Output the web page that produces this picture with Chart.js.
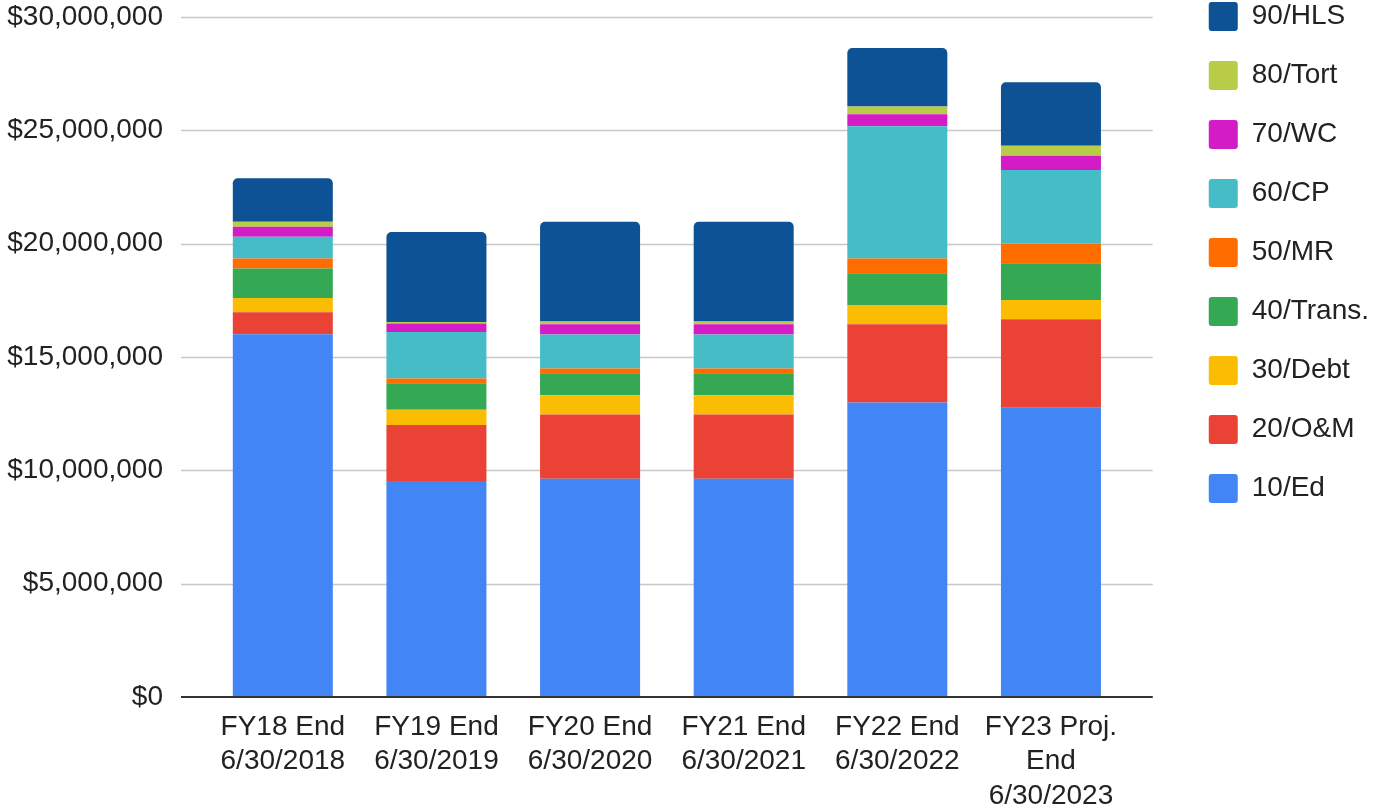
<!DOCTYPE html>
<html>
<head>
<meta charset="utf-8">
<title>Fund balances by fiscal year</title>
<script src="https://cdn.jsdelivr.net/npm/chart.js@4.4.1/dist/chart.umd.min.js"></script>
<style>
  html, body { margin: 0; padding: 0; background: #fff; overflow: hidden; }
  .wrap { position: relative; width: 1376px; height: 809px; }
</style>
</head>
<body>
<div class="wrap"><canvas id="fundChart"></canvas></div>
<script>
/* ---------- Data (dollars) ---------- */
const categories = [
  ['FY18 End', '6/30/2018'],
  ['FY19 End', '6/30/2019'],
  ['FY20 End', '6/30/2020'],
  ['FY21 End', '6/30/2021'],
  ['FY22 End', '6/30/2022'],
  ['FY23 Proj.', 'End', '6/30/2023']
];
const ed    = [16000000,  9530000,  9630000,  9630000, 12990000, 12760000];
const om    = [  970000,  2470000,  2830000,  2830000,  3450000,  3900000];
const debt  = [  630000,   670000,   850000,   850000,   850000,   850000];
const trans = [ 1300000,  1170000,   970000,   970000,  1400000,  1620000];
const mr    = [  440000,   210000,   210000,   210000,   650000,   870000];
const cp    = [  960000,  2050000,  1500000,  1500000,  5830000,  3240000];
const wc    = [  440000,   370000,   450000,   450000,   530000,   630000];
const tort  = [  220000,    70000,   120000,   120000,   340000,   440000];
const hls   = [ 1920000,  3970000,  4400000,  4400000,  2580000,  2800000];
const yTicks = [0, 5000000, 10000000, 15000000, 20000000, 25000000, 30000000];

/* ---------- Styles ---------- */
const ink = '#222222';
Chart.defaults.font.family = '"Liberation Sans", Arial, sans-serif';
Chart.defaults.color = ink;

const series = [
  { label: '10/Ed',     data: ed,    color: '#4285F4' },
  { label: '20/O&M',    data: om,    color: '#EA4335' },
  { label: '30/Debt',   data: debt,  color: '#FBBC04' },
  { label: '40/Trans.', data: trans, color: '#34A853' },
  { label: '50/MR',     data: mr,    color: '#FF6D01' },
  { label: '60/CP',     data: cp,    color: '#46BDC6' },
  { label: '70/WC',     data: wc,    color: '#D31CC6' },
  { label: '80/Tort',   data: tort,  color: '#B9CC47' },
  { label: '90/HLS',    data: hls,   color: '#0C5295' }
];

// horizontal grid lines run a bit past the bar area, like the sheet chart
const gridPlugin = {
  id: 'sheetGrid',
  beforeDatasetsDraw(chart) {
    const { ctx, chartArea, scales: { y } } = chart;
    ctx.save();
    ctx.strokeStyle = '#c8c8c8';
    ctx.lineWidth = 1.6;
    y.ticks.forEach(t => {
      if (t.value === 0) return;
      const py = Math.round(y.getPixelForValue(t.value)) + 0.5;
      ctx.beginPath();
      ctx.moveTo(chartArea.left - 25, py);
      ctx.lineTo(chartArea.right + 25, py);
      ctx.stroke();
    });
    ctx.restore();
  },
  afterDatasetsDraw(chart) {
    const { ctx, chartArea, scales: { y } } = chart;
    const py = y.getPixelForValue(0);
    ctx.save();
    ctx.strokeStyle = '#333333';
    ctx.lineWidth = 2;
    ctx.beginPath();
    ctx.moveTo(chartArea.left - 25, py);
    ctx.lineTo(chartArea.right + 25, py);
    ctx.stroke();
    ctx.restore();
  }
};

new Chart(document.getElementById('fundChart'), {
  type: 'bar',
  data: {
    labels: categories,
    datasets: series.map(s => ({
      label: s.label,
      data: s.data,
      backgroundColor: s.color,
      borderWidth: 0,
      borderRadius: s.label === '90/HLS' ? { topLeft: 5, topRight: 5, bottomLeft: 0, bottomRight: 0 } : 0,
      borderSkipped: false,
      barPercentage: 0.651,
      categoryPercentage: 1
    }))
  },
  options: {
    responsive: true,
    maintainAspectRatio: false,
    animation: false,
    layout: { padding: { top: -28, bottom: 0, left: 0, right: -3 } },
    plugins: {
      tooltip: { enabled: false },
      legend: {
        position: 'right',
        align: 'start',
        reverse: true,
        labels: {
          boxWidth: 29,
          boxHeight: 29,
          padding: 30,
          useBorderRadius: true,
          borderRadius: 3,
          color: ink,
          font: { size: 28 }
        }
      }
    },
    scales: {
      x: {
        stacked: true,
        grid: { display: false, tickLength: 8 },
        border: { display: false },
        afterFit: scale => { scale.height = 112; },
        ticks: { padding: 5, maxRotation: 0, autoSkip: false, color: ink, font: { size: 28, lineHeight: 1.23 } }
      },
      y: {
        stacked: true,
        min: 0,
        max: 30000000,
        grid: { display: true, drawOnChartArea: false, drawTicks: true, tickLength: 43, tickColor: 'rgba(0,0,0,0)' },
        border: { display: false },
        afterFit: scale => { scale.width = 206; },
        afterBuildTicks: scale => { scale.ticks = yTicks.map(v => ({ value: v })); },
        ticks: {
          padding: 0,
          color: ink,
          font: { size: 28 },
          callback: v => '$' + Number(v).toLocaleString('en-US')
        }
      },
      gap: {
        type: 'linear',
        axis: 'y',
        position: 'right',
        display: true,
        grid: { display: false },
        border: { display: false },
        ticks: { display: false },
        afterFit: scale => { scale.width = 51; }
      }
    }
  },
  plugins: [gridPlugin]
});
</script>
</body>
</html>
